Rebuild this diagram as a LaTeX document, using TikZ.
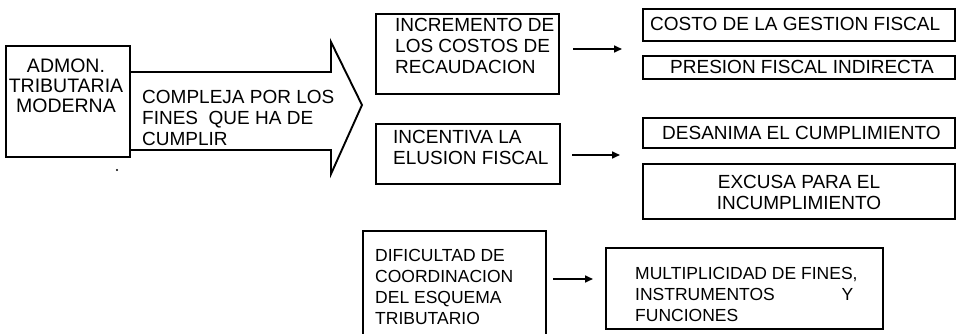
\documentclass[tikz,border=0pt]{standalone}
\usepackage{fontspec}
\setmainfont{Liberation Sans}
\usetikzlibrary{arrows.meta}
\begin{document}
\begin{tikzpicture}[x=1pt,y=-1pt,
  box/.style={draw, line width=1.8pt, inner sep=0pt, anchor=north west},
  txt/.style={inner sep=0pt, anchor=north west, align=left, font=\fontsize{19}{21}\selectfont},
  txts/.style={txt, font=\fontsize{17.5}{21}\selectfont},
  arr/.style={line width=1.6pt, -{Triangle[length=8pt,width=7pt]}},
  bigarrow/.style={draw, line width=1.9pt, line join=miter}]
\useasboundingbox (0,0) rectangle (956,334);

% left box
\node[box, minimum width=124pt, minimum height=111pt] (adm) at (5,45) {};
\node[txt, anchor=north, align=center, font=\fontsize{19.5}{20}\selectfont] (admt) at (66,59) {ADMON.\\TRIBUTARIA\\MODERNA};

% big arrow
\draw[bigarrow] (adm.east |- 0,72) -- (331,72) -- (331,42) -- (362,105) -- (331,174) -- (331,150) -- (adm.east |- 0,150);
\node[txt] (comp) at (142,90) {COMPLEJA POR LOS\\FINES\ \ QUE HA DE\\CUMPLIR};

% middle boxes
\node[txt] (b1t) at (395,18) {INCREMENTO DE\\LOS COSTOS DE\\RECAUDACION};
\node[box, minimum width=183pt, minimum height=80pt] (b1) at (375,13) {};
\node[box, minimum width=184pt, minimum height=60pt] (b2) at (375,123) {};
\node[txt] (b2t) at (393,130) {INCENTIVA LA\\ELUSION FISCAL};
\node[box, minimum width=183pt, minimum height=110pt] (b3) at (362,230) {};
\node[txts] (b3t) at (375,249) {DIFICULTAD DE\\COORDINACION\\DEL ESQUEMA\\TRIBUTARIO};

% right boxes
\node[box, minimum width=312pt, minimum height=32pt] (r1) at (642,8) {};
\node[txt] (r1t) at (650,17) {COSTO DE LA GESTION FISCAL};
\node[box, minimum width=312pt, minimum height=23pt] (r2) at (642,55) {};
\node[txt] (r2t) at (670,60) {PRESION FISCAL INDIRECTA};
\node[box, minimum width=312pt, minimum height=30pt] (r3) at (642,117) {};
\node[txt] (r3t) at (662,126) {DESANIMA EL CUMPLIMIENTO};
\node[box, minimum width=312pt, minimum height=55pt] (r4) at (642,163) {};
\node[txt, anchor=north, align=center] (r4t) at (799,175) {EXCUSA PARA EL\\INCUMPLIMIENTO};
\node[box, minimum width=277pt, minimum height=81pt] (r5) at (605,247) {};
\node[txts] (r5t) at (635,267) {MULTIPLICIDAD DE FINES,\\\hbox to 218pt{INSTRUMENTOS\hfill Y}\\FUNCIONES};

% connectors
\coordinate (a1s) at (573,49);
\coordinate (a1e) at (622,49);
\coordinate (a2s) at (572,155);
\coordinate (a2e) at (620,155);
\coordinate (a3s) at (553,279);
\coordinate (a3e) at (593,279);
\draw[arr] (a1s) -- (a1e);
\draw[arr] (a2s) -- (a2e);
\draw[arr] (a3s) -- (a3e);

% stray dot
\fill (117,170) circle (1.2pt);
\end{tikzpicture}
\end{document}
